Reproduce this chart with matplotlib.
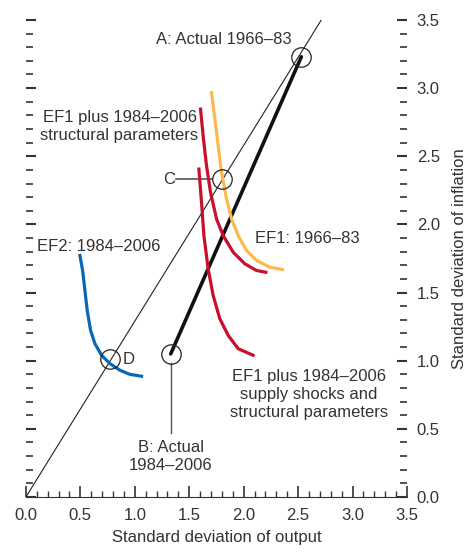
import matplotlib
matplotlib.use('Agg')
import matplotlib.pyplot as plt
from matplotlib.ticker import MultipleLocator

plt.rcParams['font.family'] = ['Liberation Sans', 'DejaVu Sans']

# efficiency frontiers (std dev output, std dev inflation)
ef1_x = [1.705, 1.736, 1.766, 1.797, 1.843, 1.889, 1.950, 2.027, 2.118, 2.241, 2.357]
ef1_y = [2.967, 2.772, 2.577, 2.381, 2.187, 2.040, 1.918, 1.808, 1.735, 1.686, 1.669]

ef1_struct_x = [1.604, 1.628, 1.659, 1.696, 1.751, 1.812, 1.904, 2.011, 2.118, 2.204]
ef1_struct_y = [2.846, 2.650, 2.430, 2.235, 2.040, 1.918, 1.796, 1.711, 1.662, 1.649]

ef1_shock_x = [1.589, 1.613, 1.635, 1.674, 1.720, 1.781, 1.858, 1.950, 2.087]
ef1_shock_y = [2.406, 2.162, 1.918, 1.674, 1.479, 1.308, 1.186, 1.088, 1.040]

ef2_x = [0.496, 0.521, 0.542, 0.563, 0.594, 0.634, 0.695, 0.771, 0.863, 0.955, 1.062]
ef2_y = [1.772, 1.662, 1.516, 1.369, 1.223, 1.125, 1.040, 0.979, 0.930, 0.900, 0.886]

# actual outcomes and frontier crossings
A = (2.53, 3.23)
B = (1.33, 1.05)
C = (1.80, 2.33)
D = (0.77, 1.01)
ray_slope = 1.29

txt = '#333333'
fig = plt.figure(figsize=(4.71, 5.55), dpi=100)
ax = fig.add_axes([0.055, 0.1045, 0.809, 0.8595])

# ray from origin
ax.plot([0, 3.5 / ray_slope], [0, 3.5], color='#222222', lw=0.8, zorder=2)
# A to B
ax.plot([A[0], B[0]], [A[1], B[1]], color='#111111', lw=2.6, zorder=3, solid_capstyle='round')

kw = dict(lw=2.3, zorder=4, solid_joinstyle='round')
ax.plot(ef1_x, ef1_y, color='#FDB94E', **kw)
ax.plot(ef1_struct_x, ef1_struct_y, color='#C8102E', **kw)
ax.plot(ef1_shock_x, ef1_shock_y, color='#C8102E', **kw)
ax.plot(ef2_x, ef2_y, color='#0868B4', **kw)

for p in (A, B, C, D):
    ax.plot(p[0], p[1], marker='o', ms=14, mfc='none', mec='#222222', mew=0.9, zorder=5)

# connector lines
ax.plot([1.38, C[0] - 0.09], [C[1], C[1]], color='#555555', lw=1.2, zorder=2)
ax.plot([B[0], B[0]], [B[1] - 0.07, 0.47], color='#555555', lw=1.0, zorder=2)

fs = 12
ax.text(1.82, 3.36, 'A: Actual 1966–83', ha='center', va='center', fontsize=fs, color=txt)
ax.text(0.86, 2.72, 'EF1 plus 1984–2006\nstructural parameters', ha='center', va='center',
        fontsize=fs, color=txt, linespacing=1.25)
ax.text(1.37, C[1], 'C', ha='right', va='center', fontsize=fs, color=txt)
ax.text(2.10, 1.90, 'EF1: 1966–83', ha='left', va='center', fontsize=fs, color=txt)
ax.text(0.10, 1.84, 'EF2: 1984–2006', ha='left', va='center', fontsize=fs, color=txt)
ax.text(0.89, D[1], 'D', ha='left', va='center', fontsize=fs, color=txt)
ax.text(2.60, 0.75, 'EF1 plus 1984–2006\nsupply shocks and\nstructural parameters', ha='center',
        va='center', fontsize=fs, color=txt, linespacing=1.25)
ax.text(B[0], 0.30, 'B: Actual\n1984–2006', ha='center', va='center', fontsize=fs, color=txt,
        linespacing=1.25)

ax.set_xlim(0, 3.5)
ax.set_ylim(0, 3.5)
for s in ('top', 'left', 'right'):
    ax.spines[s].set_visible(False)
ax.spines['bottom'].set_color('#333333')

ax.xaxis.set_major_locator(MultipleLocator(0.5))
ax.xaxis.set_minor_locator(MultipleLocator(0.1))
ax.yaxis.set_major_locator(MultipleLocator(0.5))
ax.yaxis.set_minor_locator(MultipleLocator(0.1))
ax.tick_params(axis='both', which='both', direction='in', colors='#333333', labelsize=fs)
ax.tick_params(axis='x', which='major', length=8, width=1.2, pad=8)
ax.tick_params(axis='x', which='minor', length=4, width=1)
ax.tick_params(axis='y', which='major', left=True, right=True, labelleft=False, labelright=True,
               length=7, width=1.5, pad=7)
ax.tick_params(axis='y', which='minor', left=True, right=True, length=5, width=1.2)
ax.xaxis.set_major_formatter(plt.FormatStrFormatter('%.1f'))
ax.yaxis.set_major_formatter(plt.FormatStrFormatter('%.1f'))

ax.set_xlabel('Standard deviation of output', fontsize=fs, color=txt, labelpad=5)
ax.yaxis.set_label_position('right')
ax.set_ylabel('Standard deviation of inflation', fontsize=fs, color=txt, labelpad=9)

fig.savefig('out.png', dpi=100)
